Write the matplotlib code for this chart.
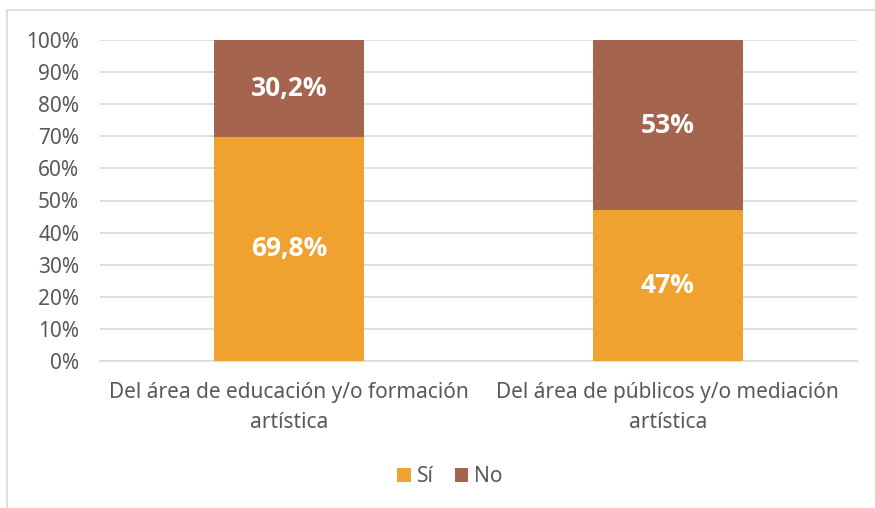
import matplotlib.pyplot as plt
from matplotlib.patches import Rectangle

categories = ['Del área de educación y/o formación\nartística',
              'Del área de públicos y/o mediación\nartística']
si_values = [69.8, 47]
no_values = [30.2, 53]
si_labels = ['69,8%', '47%']
no_labels = ['30,2%', '53%']
yticks = [0, 10, 20, 30, 40, 50, 60, 70, 80, 90, 100]

plt.rcParams['font.family'] = ['Noto Sans', 'DejaVu Sans']
text_col = '#595959'
c_si = '#F0A230'
c_no = '#A5644E'

fig = plt.figure(figsize=(8.75, 5.08), dpi=100)
# outer chart frame
fig.patches.append(Rectangle((7 / 875, -0.05), 1.0, 1 - 10 / 508 + 0.05,
                             transform=fig.transFigure, fill=False,
                             edgecolor='#D9D9D9', linewidth=1.2))

ax = fig.add_axes([100 / 875, 1 - 361 / 508, 757 / 875, 321 / 508])
x = range(len(categories))
w = 0.397
ax.bar(x, si_values, width=w, color=c_si, label='Sí', zorder=3)
ax.bar(x, no_values, width=w, bottom=si_values, color=c_no, label='No', zorder=3)

for i in x:
    ax.text(i, si_values[i] / 2, si_labels[i], ha='center', va='center',
            color='white', fontsize=19, fontweight='bold',
            family=['Open Sans', 'DejaVu Sans'], zorder=4)
    ax.text(i, si_values[i] + no_values[i] / 2, no_labels[i], ha='center',
            va='center', color='white', fontsize=19, fontweight='bold',
            family=['Open Sans', 'DejaVu Sans'], zorder=4)

ax.set_xlim(-0.5, 1.5)
ax.set_ylim(0, 100)
ax.set_yticks(yticks)
ax.set_yticklabels([f'{v}%' for v in yticks])
ax.set_xticks(list(x))
ax.set_xticklabels(categories, linespacing=1.55)
ax.tick_params(axis='both', length=0, colors=text_col, labelsize=15)
ax.tick_params(axis='y', pad=15)
ax.tick_params(axis='x', pad=15)
ax.grid(axis='y', color='#D9D9D9', linewidth=1.2, zorder=0)
for s in ['top', 'right', 'left']:
    ax.spines[s].set_visible(False)
ax.spines['bottom'].set_color('#D9D9D9')
ax.spines['bottom'].set_linewidth(1.2)

leg = fig.legend(loc='center', bbox_to_anchor=(450 / 875, 1 - 477 / 508),
                 ncol=2, frameon=False, fontsize=15, handlelength=0.65,
                 handleheight=0.65, handletextpad=0.3, columnspacing=1.0)
for t in leg.get_texts():
    t.set_color(text_col)

plt.savefig('out.png')
